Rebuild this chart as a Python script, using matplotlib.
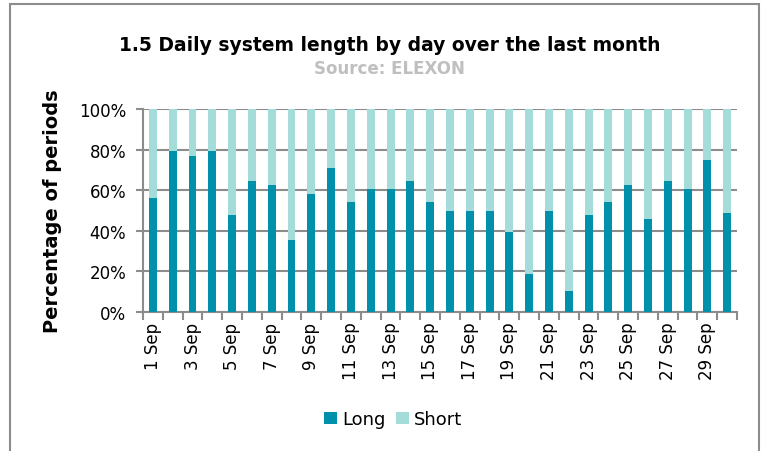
import matplotlib.pyplot as plt
import numpy as np
from matplotlib.patches import Rectangle

# Share of half-hour periods the system was long / short each day (%)
days = [f"{d} Sep" for d in range(1, 31)]
long_pct = [56.25, 79.17, 77.08, 79.17, 47.92, 64.58, 62.5, 35.42, 58.33, 70.83,
            54.17, 60.42, 60.42, 64.58, 54.17, 50.0, 50.0, 50.0, 39.58, 18.75,
            50.0, 10.42, 47.92, 54.17, 62.5, 45.83, 64.58, 60.42, 75.0, 48.96]
short_pct = [100 - v for v in long_pct]

LONG_COL = "#0090A9"
SHORT_COL = "#A3DCD9"
GRID_COL = "#8C8C8C"

plt.rcParams['font.family'] = ['DejaVu Sans']

fig = plt.figure(figsize=(7.71, 4.52), dpi=100)
ax = fig.add_axes([0.1855, 0.3075, 0.7705, 0.4491])

x = np.arange(len(days))
ax.bar(x, long_pct, width=0.4, color=LONG_COL, label="Long", zorder=3)
ax.bar(x, short_pct, width=0.4, bottom=long_pct, color=SHORT_COL, label="Short", zorder=3)

ax.set_xlim(-0.5, len(days) - 0.5)
ax.set_ylim(0, 100)
ax.set_yticks(np.arange(0, 101, 20))
ax.set_yticklabels([f"{v}%" for v in range(0, 101, 20)], fontsize=12)
ax.yaxis.grid(True, color=GRID_COL, linewidth=1.5, zorder=0)

ax.set_xticks(x[::2])
ax.set_xticklabels(days[::2], rotation=90, fontsize=12)
ax.set_xticks(np.arange(-0.5, len(days)), minor=True)
ax.tick_params(axis='x', which='major', length=0, pad=7)
ax.tick_params(axis='x', which='minor', length=6, width=1.5, color=GRID_COL)
ax.tick_params(axis='y', length=5, width=1.5, color=GRID_COL, pad=7)

for side in ['top', 'right']:
    ax.spines[side].set_visible(False)
for side in ['left', 'bottom']:
    ax.spines[side].set_color(GRID_COL)
    ax.spines[side].set_linewidth(1.5)

ax.set_ylabel("Percentage of periods", fontsize=14, fontweight='bold', labelpad=12)

fig.text(0.505, 0.9, "1.5 Daily system length by day over the last month",
         ha='center', va='center', fontsize=13.5, fontweight='bold')
fig.text(0.505, 0.848, "Source: ELEXON", ha='center', va='center',
         fontsize=12, fontweight='bold', color='#BFBFBF')

fig.legend(loc='center', bbox_to_anchor=(0.51, 0.07), ncol=2, frameon=False,
           fontsize=13, handlelength=0.7, handleheight=0.7, handletextpad=0.3,
           columnspacing=0.6)

# outer chart border
fig.patches.append(Rectangle((0.013, -0.05), 0.972, 1.04, transform=fig.transFigure,
                             fill=False, edgecolor='#8C8C8C', linewidth=1.5))

fig.savefig("out.png", dpi=100)
